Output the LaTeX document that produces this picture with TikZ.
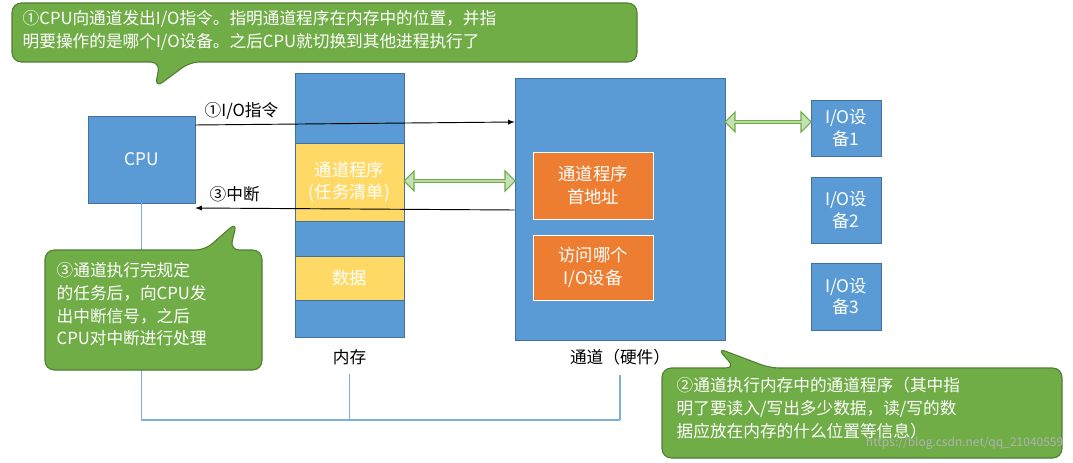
\documentclass[tikz,border=0pt]{standalone}
\usepackage{fontspec}
\setmainfont{Noto Sans CJK SC}
\usetikzlibrary{shapes.arrows}
\definecolor{bl}{HTML}{5B9BD5}
\definecolor{bld}{HTML}{41719C}
\definecolor{yl}{HTML}{FFD966}
\definecolor{og}{HTML}{ED7D31}
\definecolor{gr}{HTML}{70AD47}
\definecolor{grd}{HTML}{507E32}
\definecolor{lg}{HTML}{C5E0B4}
\begin{document}
\begin{tikzpicture}[x=0.75pt,y=-0.75pt,
 box/.style={draw=bld,fill=bl,text=white,align=center,font=\fontsize{13}{16}\selectfont},
 ybox/.style={draw=bld,fill=yl,text=white,align=center,font=\fontsize{13}{16}\selectfont},
 obox/.style={draw=white,fill=og,text=white,align=center,font=\fontsize{13}{17}\selectfont},
 call/.style={draw=grd,fill=gr,line width=0.8pt,rounded corners=7},
 ctext/.style={text=white,align=left,font=\fontsize{12.5}{17}\selectfont,anchor=north west},
 lbl/.style={font=\fontsize{12.5}{16}\selectfont},
 dbl/.style={draw=gr,fill=lg,line width=0.8pt,double arrow,double arrow head extend=2.5pt,minimum height=#1,minimum width=15pt,inner sep=0pt},
 bus/.style={draw=bl!80,line width=0.8pt}]
\useasboundingbox (0,0) rectangle (1073,463);
% CPU
\node[box,minimum width=107*0.75pt,minimum height=87*0.75pt] (cpu) at (141.5,159.5) {CPU};
% memory
\node[box,minimum width=109*0.75pt,minimum height=264*0.75pt] (mem) at (349.5,205) {};
\node[ybox,minimum width=109*0.75pt,minimum height=78*0.75pt] (prog) at (349.5,182) {通道程序\\(任务清单)};
\node[ybox,minimum width=109*0.75pt,minimum height=44*0.75pt] (data) at (349.5,278) {数据};
\node[lbl] (memlbl) at (349.5,357) {内存};
% channel
\node[box,minimum width=210*0.75pt,minimum height=262*0.75pt] (ch) at (620,209) {};
\node[obox,minimum width=120*0.75pt,minimum height=67*0.75pt] (addr) at (593,185.5) {通道程序\\首地址};
\node[obox,minimum width=120*0.75pt,minimum height=65*0.75pt] (dev) at (593,267.5) {访问哪个\\I/O设备};
\node[lbl] (chlbl) at (620,357) {通道（硬件）};
% IO devices
\node[box,minimum width=70*0.75pt,minimum height=56*0.75pt] (io1) at (846,128) {I/O设\\备1};
\node[box,minimum width=70*0.75pt,minimum height=66*0.75pt] (io2) at (846,210) {I/O设\\备2};
\node[box,minimum width=70*0.75pt,minimum height=67*0.75pt] (io3) at (846,296.5) {I/O设\\备3};
% double arrows
\node[dbl=111*0.75pt] (a1) at (459.5,181) {};
\node[dbl=86*0.75pt] (a2) at (768,122) {};
% commands
\coordinate (c1) at (cpu.east |- 0,125);
\coordinate (c2) at (ch.west |- 0,122);
\draw[-latex,line width=0.7pt] (c1) -- (c2);
\node[lbl,anchor=south west] (l1) at (200,124) {①I/O指令};
\coordinate (c3) at (ch.west |- 0,210);
\coordinate (c4) at (cpu.east |- 0,208);
\draw[-latex,line width=0.7pt] (c3) -- (c4);
\node[lbl,anchor=south west] (l3) at (205,207) {③中断};
% bus
\coordinate (b1) at (141.5,420);
\coordinate (b2) at (349.5,420);
\coordinate (b3) at (620,420);
\draw[bus] (cpu.south) -- (b1) -- (b3);
\draw[bus] (memlbl.south) ++(0,5) -- (b2);
\draw[bus] (chlbl.south) ++(0,5) -- (b3);
% callouts
\draw[call] (12,3) -- (637,3) -- (637,62) -- (190,62) -- (155,88) -- (160,62) -- (12,62) -- cycle;
\node[ctext] (t1) at (18,6) {①CPU向通道发出I/O指令。指明通道程序在内存中的位置，并指\\明要操作的是哪个I/O设备。之后CPU就切换到其他进程执行了};
\draw[call] (45,250) -- (205,250) -- (237,222) -- (230,250) -- (262,250) -- (262,370) -- (45,370) -- cycle;
\node[ctext] (t2) at (52,258) {③通道执行完规定\\的任务后，向CPU发\\出中断信号，之后\\CPU对中断进行处理};
\draw[call] (662,368) -- (735,368) -- (717,348) -- (770,368) -- (1062,368) -- (1062,458) -- (662,458) -- cycle;
\node[ctext] (t3) at (672,373) {②通道执行内存中的通道程序（其中指\\明了要读入/写出多少数据，读/写的数\\据应放在内存的什么位置等信息）};
\node[text=gray!60,font=\fontsize{9}{10}\selectfont,anchor=east] (wm) at (1068,443) {https://blog.csdn.net/qq\_21040559};
\end{tikzpicture}
\end{document}
